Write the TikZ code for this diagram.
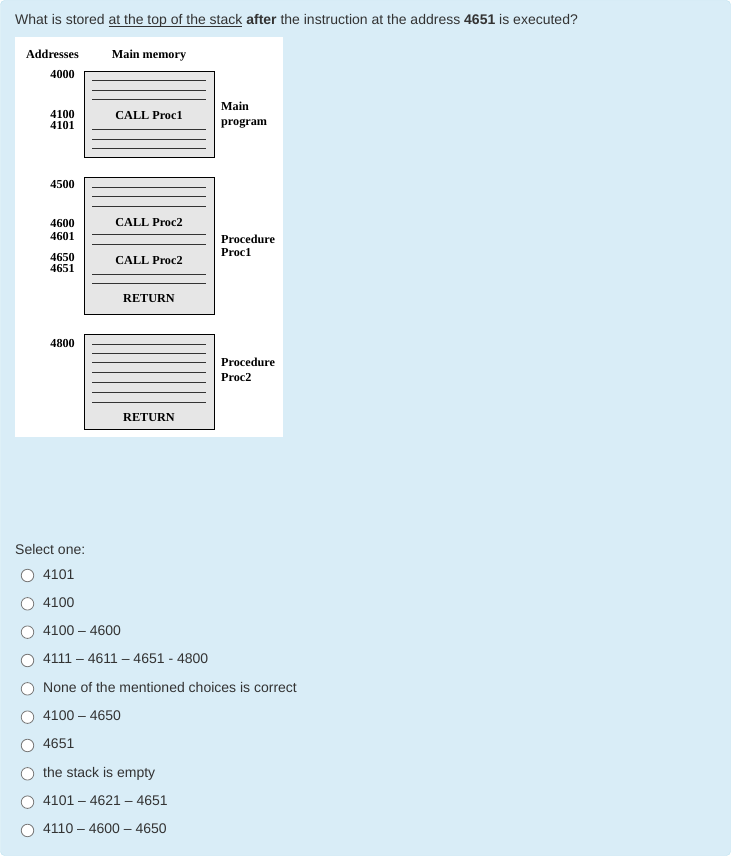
\documentclass[tikz,border=0pt]{standalone}
\usepackage{fontspec}
\setmainfont{Liberation Sans}
\newfontfamily\memfont{Liberation Serif}
\usetikzlibrary{positioning}
\definecolor{panelbg}{RGB}{217,237,247}
\definecolor{panelline}{RGB}{188,226,240}
\definecolor{memgray}{RGB}{230,230,230}
\definecolor{qtext}{RGB}{51,51,51}
\definecolor{radioline}{RGB}{120,120,120}
\tikzset{
  qlabel/.style={anchor=base west, inner sep=0pt, text=qtext,
    font=\fontsize{14}{16}\selectfont},
  radio/.style={circle, draw=radioline, fill=white, line width=0.8pt,
    inner sep=0pt, minimum size=12.5pt},
  memlabel/.style={inner sep=0pt, anchor=base,
    font=\memfont\bfseries\fontsize{12.2}{13}\selectfont},
  addr/.style={memlabel, anchor=base east},
  sidelabel/.style={memlabel, anchor=base west},
  membox/.style={draw=black, fill=memgray, line width=0.8pt},
  memline/.style={draw=black!80, line width=0.6pt}
}
\begin{document}
\begin{tikzpicture}[x=1pt, y=-1pt]
  \useasboundingbox (0,0) rectangle (731,856);
  \newcommand{\LineL}{92}
  \newcommand{\LineR}{206}
  \newcommand{\MidX}{149}
  % panel and picture area
  \draw[fill=panelbg, draw=panelline, rounded corners=4pt] (0.5,0.5) rectangle (730.5,855.5);
  \fill[white] (15,37) rectangle (283,437);
  % question
  \node[qlabel] (question) at (15,25) {What is stored \underline{\smash{at the top of the stack}} \textbf{after} the instruction at the address \textbf{4651} is executed?};
  % headings
  \node[addr] (addrhead) at (79,59) {Addresses};
  \node[memlabel] (memhead) at (149,59) {Main memory};
  % main program
  \draw[membox] (84,71) rectangle (214,157);% Main Box
  \foreach \y in {80,90,99,129,139,148}
    \draw[memline] (\LineL,\y) -- (\LineR,\y);
  \node[memlabel] (callone) at (\MidX,120) {CALL Proc1};
  \node[addr] (a4000) at (75,79) {4000};
  \node[addr] (a4100) at (75,118) {4100};
  \node[addr] (a4101) at (75,129.5) {4101};
  \node[sidelabel] (mainlbl) at (221,111) {Main};
  \node[sidelabel] (proglbl) at (221,125) {program};
  % procedure Proc1
  \draw[membox] (84,177) rectangle (214,314);% Proc1 Box
  \foreach \y in {187,196,206,234,244,274,283}
    \draw[memline] (\LineL,\y) -- (\LineR,\y);
  \node[memlabel] (calltwoa) at (\MidX,226.7) {CALL Proc2};
  \node[memlabel] (calltwob) at (\MidX,264) {CALL Proc2};
  \node[memlabel] (retone) at (\MidX,302.3) {RETURN};
  \node[addr] (a4500) at (75,188.5) {4500};
  \node[addr] (a4600) at (75,227.5) {4600};
  \node[addr] (a4601) at (75,240) {4601};
  \node[addr] (a4650) at (75,261) {4650};
  \node[addr] (a4651) at (75,272.7) {4651};
  \node[sidelabel] (proconelbl) at (221,243.3) {Procedure};
  \node[sidelabel] (proconename) at (221,256) {Proc1};
  % procedure Proc2
  \draw[membox] (84,334) rectangle (214,429);% Proc2 Box
  \foreach \y in {344,353.3,362.7,372.7,382.7,392.7,402}
    \draw[memline] (\LineL,\y) -- (\LineR,\y);
  \node[memlabel] (rettwo) at (\MidX,421.7) {RETURN};
  \node[addr] (a4800) at (75,347.3) {4800};
  \node[sidelabel] (proctwolbl) at (221,366.7) {Procedure};
  \node[sidelabel] (proctwoname) at (221,381) {Proc2};
  % answers
  \node[qlabel] (selectone) at (15,554) {Select one:};
  \foreach \opt [count=\i from 0] in {4101, 4100, 4100 – 4600,
      4111 – 4611 – 4651 - 4800, None of the mentioned choices is correct,
      4100 – 4650, 4651, the stack is empty, 4101 – 4621 – 4651,
      4110 – 4600 – 4650}
  {
    \node[radio] (radio\i) at (27.5,{579+28.33*\i-3.5}) {};
    \node[qlabel] (opt\i) at (43,{579+28.33*\i}) {\opt};
  }
\end{tikzpicture}
\end{document}
